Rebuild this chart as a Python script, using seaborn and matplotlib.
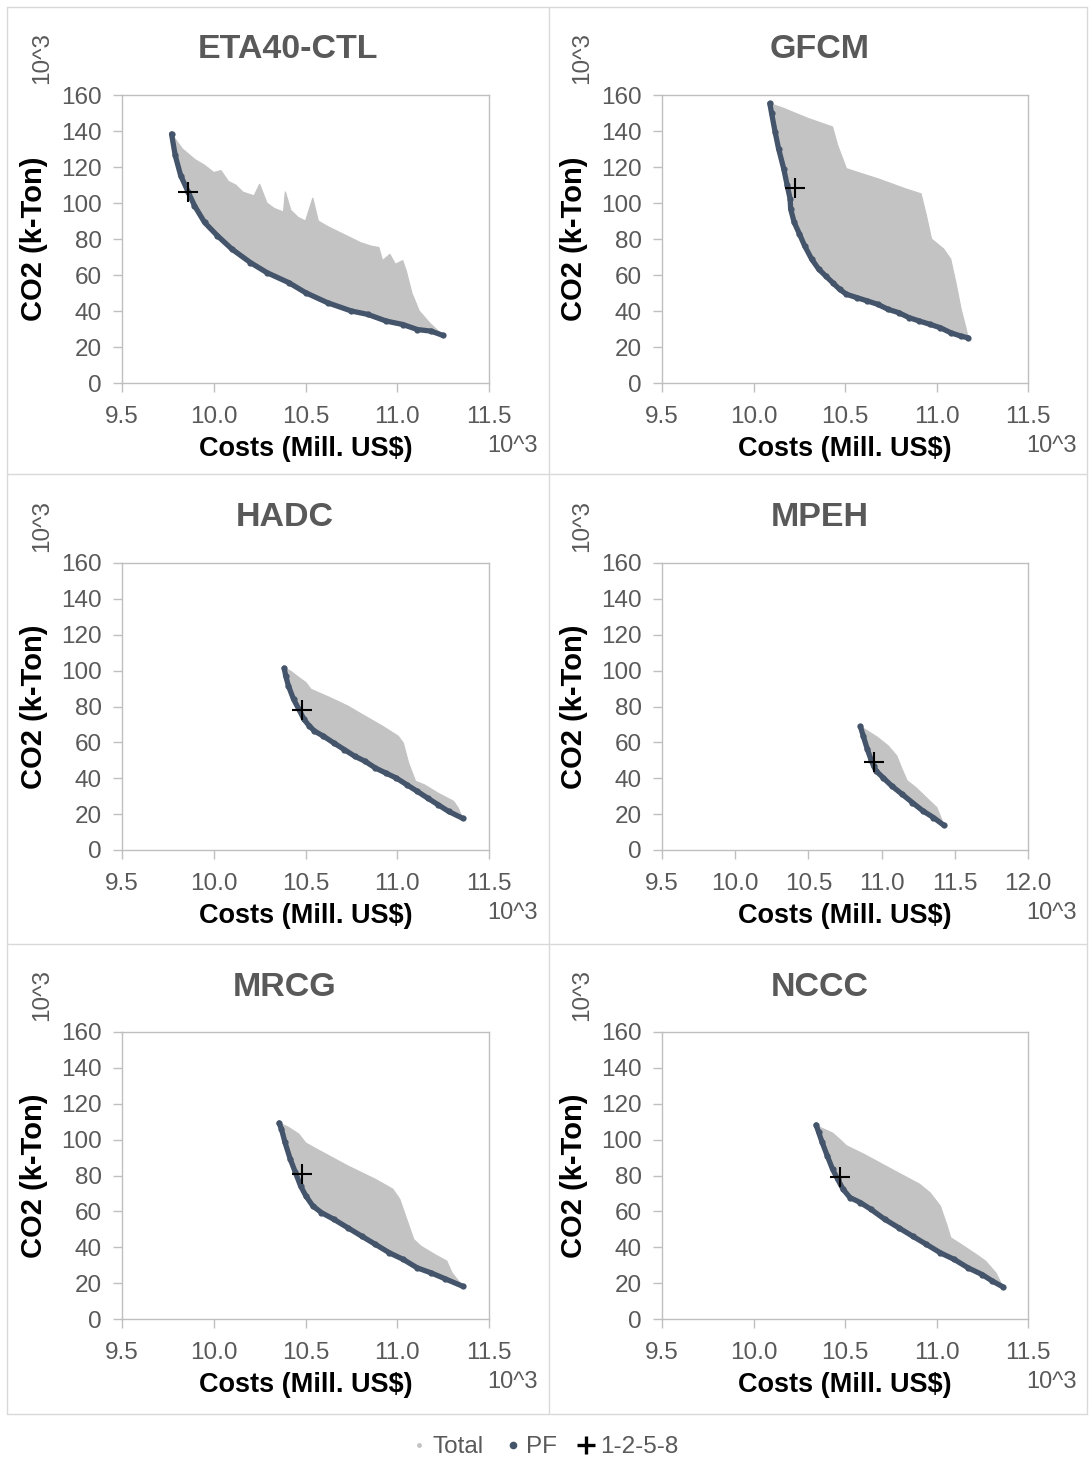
import matplotlib
matplotlib.use("Agg")
import matplotlib.pyplot as plt
from matplotlib.lines import Line2D
import pandas as pd
import seaborn as sns

# ---------------------------------------------------------------- data
TITLES = ["ETA40-CTL", "GFCM", "HADC", "MPEH", "MRCG", "NCCC"]
X_TICKS = [9.5, 10.0, 10.5, 11.0, 11.5]
X_TICKS_MPEH = [9.5, 10.0, 10.5, 11.0, 11.5, 12.0]
Y_TICKS = [0, 20, 40, 60, 80, 100, 120, 140, 160]
LEGEND_LABELS = ["Total", "PF", "1-2-5-8"]

# ETA40-CTL: Pareto front, upper edge of all solutions, chosen solution
ETA_PF_COST = [9.77, 9.79, 9.82, 9.86, 9.895, 9.95, 10.02, 10.10, 10.20, 10.29,
               10.41, 10.50, 10.62, 10.75, 10.84, 10.94, 11.03, 11.11, 11.185, 11.25]
ETA_PF_CO2 = [138.4, 126.4, 115.2, 106.3, 98.5, 89.2, 81.8, 74.3, 66.9, 61.3,
              55.7, 50.2, 44.6, 40.0, 38.1, 34.4, 32.5, 29.7, 28.8, 26.4]
ETA_TOP_COST = [9.77, 9.83, 9.90, 9.95, 10.00, 10.04, 10.08, 10.12, 10.16, 10.22,
                10.25, 10.29, 10.33, 10.38, 10.39, 10.42, 10.46, 10.50, 10.54, 10.57,
                10.62, 10.68, 10.74, 10.80, 10.86, 10.90, 10.92, 10.96, 10.99, 11.03,
                11.05, 11.08, 11.10, 11.12, 11.18, 11.25]
ETA_TOP_CO2 = [138.4, 130.0, 124.0, 121.0, 117.0, 118.0, 112.0, 110.0, 106.0, 104.0,
               110.5, 100.0, 97.0, 95.0, 106.3, 96.0, 92.0, 90.0, 102.8, 90.0,
               87.0, 84.0, 81.0, 78.0, 76.0, 75.3, 68.0, 71.5, 66.0, 68.0,
               62.0, 50.0, 45.0, 40.0, 33.0, 26.4]
ETA_PICK = (9.86, 106.3)

# GFCM
GFCM_PF_COST = [10.089, 10.099, 10.118, 10.137, 10.165, 10.184, 10.200, 10.203, 10.222, 10.251,
                10.279, 10.318, 10.356, 10.394, 10.432, 10.470, 10.508, 10.565, 10.622, 10.679,
                10.736, 10.793, 10.850, 10.907, 10.964, 11.021, 11.078, 11.135, 11.173]
GFCM_PF_CO2 = [155.3, 149.8, 139.5, 130.2, 119.1, 109.8, 102.3, 96.7, 89.3, 82.8,
               76.3, 68.8, 63.3, 59.5, 55.8, 52.1, 49.3, 47.4, 45.6, 43.7,
               40.9, 39.1, 36.3, 34.4, 32.6, 30.7, 27.9, 26.0, 25.1]
GFCM_TOP_COST = [10.089, 10.165, 10.298, 10.432, 10.460, 10.508, 10.565, 10.679, 10.755, 10.831,
                 10.916, 10.945, 10.973, 11.040, 11.078, 11.106, 11.135, 11.163, 11.173]
GFCM_TOP_CO2 = [155.3, 152.6, 147.0, 142.3, 132.1, 119.1, 117.2, 113.5, 110.7, 107.9,
                105.1, 93.0, 80.0, 74.4, 68.8, 55.8, 40.9, 29.8, 25.1]
GFCM_PICK = (10.226, 108.3)

# HADC
HADC_PF_COST = [10.384, 10.392, 10.407, 10.435, 10.464, 10.492, 10.521, 10.549, 10.597, 10.654,
                10.711, 10.768, 10.824, 10.881, 10.938, 10.995, 11.052, 11.109, 11.166, 11.223,
                11.280, 11.356]
HADC_PF_CO2 = [101.4, 97.1, 91.5, 84.0, 78.4, 72.8, 69.1, 66.3, 63.5, 59.7,
               56.0, 52.3, 49.5, 45.7, 42.9, 40.1, 36.4, 32.7, 28.9, 25.2,
               21.5, 17.7]
HADC_TOP_COST = [10.384, 10.417, 10.464, 10.502, 10.530, 10.635, 10.730, 10.824, 10.919, 11.005,
                 11.033, 11.062, 11.100, 11.147, 11.223, 11.308, 11.333, 11.356]
HADC_TOP_CO2 = [101.4, 99.9, 96.2, 93.4, 89.6, 84.9, 80.3, 74.7, 69.1, 63.5,
                59.7, 48.5, 38.3, 36.4, 31.7, 27.1, 23.3, 17.7]
HADC_PICK = (10.483, 78.0)

# MPEH
MPEH_PF_COST = [10.855, 10.874, 10.902, 10.926, 10.945, 10.962, 11.009, 11.068, 11.140, 11.211,
                11.282, 11.354, 11.425]
MPEH_PF_CO2 = [68.9, 63.7, 56.3, 50.7, 46.9, 44.1, 40.4, 35.8, 31.1, 26.4,
               21.8, 18.1, 13.8]
MPEH_TOP_COST = [10.855, 10.902, 10.973, 11.045, 11.104, 11.140, 11.175, 11.235, 11.306, 11.377,
                 11.401, 11.425]
MPEH_TOP_CO2 = [68.9, 66.5, 62.8, 58.1, 52.5, 45.1, 38.6, 34.8, 29.2, 23.7,
                19.0, 13.8]
MPEH_PICK = (10.950, 48.8)

# MRCG
MRCG_PF_COST = [10.356, 10.369, 10.388, 10.417, 10.445, 10.473, 10.502, 10.540, 10.587, 10.654,
                10.730, 10.806, 10.881, 10.957, 11.033, 11.109, 11.185, 11.261, 11.356]
MRCG_PF_CO2 = [109.3, 105.9, 98.5, 89.1, 81.7, 74.2, 68.6, 63.0, 59.3, 55.6,
               50.9, 46.2, 41.6, 36.9, 33.2, 28.5, 25.7, 22.4, 18.3]
MRCG_TOP_COST = [10.356, 10.407, 10.464, 10.502, 10.578, 10.730, 10.881, 10.976, 11.014, 11.052,
                 11.090, 11.128, 11.204, 11.270, 11.299, 11.356]
MRCG_TOP_CO2 = [109.3, 106.9, 103.1, 98.1, 93.8, 85.4, 77.9, 72.4, 66.8, 55.6,
                44.4, 40.7, 36.0, 32.3, 25.7, 18.3]
MRCG_PICK = (10.479, 81.1)

# NCCC
NCCC_PF_COST = [10.342, 10.356, 10.375, 10.403, 10.432, 10.460, 10.489, 10.527, 10.584, 10.641,
                10.717, 10.793, 10.869, 10.945, 11.021, 11.097, 11.173, 11.249, 11.306, 11.363]
NCCC_PF_CO2 = [108.2, 104.1, 98.5, 91.0, 83.5, 77.9, 72.4, 67.7, 64.9, 61.2,
               55.6, 50.9, 46.2, 41.6, 36.9, 33.2, 28.5, 24.8, 21.1, 17.9]
NCCC_TOP_COST = [10.342, 10.375, 10.432, 10.470, 10.508, 10.603, 10.755, 10.907, 10.964, 11.021,
                 11.059, 11.078, 11.135, 11.230, 11.268, 11.325, 11.363]
NCCC_TOP_CO2 = [108.2, 106.3, 103.7, 100.3, 96.6, 91.9, 83.5, 75.2, 70.5, 63.0,
                51.8, 45.3, 41.6, 35.1, 32.3, 25.7, 17.9]
NCCC_PICK = (10.473, 79.4)

# ---------------------------------------------------------------- style
TOTAL_COLOR = "#C3C3C3"
PF_COLOR = "#44546A"
TEXT_GRAY = "#595959"
AXIS_GRAY = "#BFBFBF"
BORDER_GRAY = "#D9D9D9"

sns.set_theme(style="white")
plt.rcParams["font.family"] = ["Liberation Sans", "DejaVu Sans"]

W, H = 1090, 1461
fig = plt.figure(figsize=(W / 100, H / 100), dpi=100)


def fx(px):
    return px / W


def fy(py):
    return 1 - py / H


# plot-area boxes in pixels: left, right, top, bottom
BOXES = [(122, 489, 95, 383), (662, 1028, 95, 383),
         (122, 489, 563, 850), (662, 1028, 563, 850),
         (122, 489, 1032, 1319), (662, 1028, 1032, 1319)]
TITLE_X = [288, 820, 285, 820, 285, 820]

PANELS = [
    (ETA_PF_COST, ETA_PF_CO2, ETA_TOP_COST, ETA_TOP_CO2, ETA_PICK, X_TICKS),
    (GFCM_PF_COST, GFCM_PF_CO2, GFCM_TOP_COST, GFCM_TOP_CO2, GFCM_PICK, X_TICKS),
    (HADC_PF_COST, HADC_PF_CO2, HADC_TOP_COST, HADC_TOP_CO2, HADC_PICK, X_TICKS),
    (MPEH_PF_COST, MPEH_PF_CO2, MPEH_TOP_COST, MPEH_TOP_CO2, MPEH_PICK, X_TICKS_MPEH),
    (MRCG_PF_COST, MRCG_PF_CO2, MRCG_TOP_COST, MRCG_TOP_CO2, MRCG_PICK, X_TICKS),
    (NCCC_PF_COST, NCCC_PF_CO2, NCCC_TOP_COST, NCCC_TOP_CO2, NCCC_PICK, X_TICKS),
]

for i, (pf_x, pf_y, top_x, top_y, pick, xticks) in enumerate(PANELS):
    left, right, top, bottom = BOXES[i]
    ax = fig.add_axes([fx(left), fy(bottom), (right - left) / W, (bottom - top) / H])

    # region covered by all evaluated solutions
    poly_x = list(top_x) + list(pf_x[::-1])
    poly_y = list(top_y) + list(pf_y[::-1])
    ax.fill(poly_x, poly_y, color=TOTAL_COLOR, lw=0.8, ec=TOTAL_COLOR, zorder=1)

    # Pareto front
    pf = pd.DataFrame({"cost": pf_x, "co2": pf_y})
    sns.lineplot(data=pf, x="cost", y="co2", sort=False, estimator=None,
                 color=PF_COLOR, lw=3.8, marker="o", markersize=4.5,
                 markeredgewidth=0, ax=ax, zorder=3)

    # selected solution
    sns.scatterplot(x=[pick[0]], y=[pick[1]], marker="+", s=220, color="black",
                    linewidth=1.5, ax=ax, zorder=4)

    ax.set_xlim(xticks[0], xticks[-1])
    ax.set_ylim(0, 160)
    ax.set_xticks(xticks)
    ax.set_xticklabels([f"{v:.1f}" for v in xticks])
    ax.set_yticks(Y_TICKS)
    ax.set_yticklabels([str(v) for v in Y_TICKS])
    ax.set_xlabel("")
    ax.set_ylabel("")
    ax.tick_params(axis="both", which="major", bottom=True, left=True,
                   direction="out", length=6.5, width=1, color=AXIS_GRAY,
                   labelsize=17.5, labelcolor=TEXT_GRAY)
    ax.tick_params(axis="x", pad=10)
    ax.tick_params(axis="y", pad=8)
    for sp in ax.spines.values():
        sp.set_visible(True)
        sp.set_color(AXIS_GRAY)
        sp.set_linewidth(1)

    # texts around the plot area
    fig.text(fx(TITLE_X[i]), fy(top - 45), TITLES[i], ha="center", va="center",
             fontsize=24.5, fontweight="bold", color=TEXT_GRAY)
    fig.text(fx((left + right) / 2), fy(bottom + 66), "Costs (Mill. US$)",
             ha="center", va="center", fontsize=19.5, fontweight="bold", color="black")
    fig.text(fx(left - 88), fy((top + bottom) / 2), "CO2 (k-Ton)", rotation=90,
             ha="center", va="center", fontsize=21, fontweight="bold", color="black")
    fig.text(fx(right - 2), fy(bottom + 63), "10^3", ha="left", va="center",
             fontsize=17, color=TEXT_GRAY)
    fig.text(fx(left - 80), fy(top - 37), "10^3", rotation=90, ha="center",
             va="center", fontsize=17.5, color=TEXT_GRAY)

# cell borders
for x in (7, 549, 1087):
    fig.add_artist(Line2D([fx(x), fx(x)], [fy(7), fy(1414)], transform=fig.transFigure,
                          color=BORDER_GRAY, lw=1))
for y in (7, 474, 944, 1414):
    fig.add_artist(Line2D([fx(7), fx(1087)], [fy(y), fy(y)], transform=fig.transFigure,
                          color=BORDER_GRAY, lw=1))

# legend
handles = [
    Line2D([], [], ls="none", marker="o", ms=3.5, mew=0, color=TOTAL_COLOR),
    Line2D([], [], ls="none", marker="o", ms=5.5, mew=0, color=PF_COLOR),
    Line2D([], [], ls="none", marker="+", ms=13, mew=2.4, color="black"),
]
leg = fig.legend(handles, LEGEND_LABELS, loc="center", bbox_to_anchor=(0.5, fy(1447)),
                 ncol=3, frameon=False, fontsize=17.5, handlelength=0.6,
                 handletextpad=0.25, columnspacing=0.9, borderaxespad=0)
for t in leg.get_texts():
    t.set_color(TEXT_GRAY)

fig.savefig("out.png", dpi=100, facecolor="white")
